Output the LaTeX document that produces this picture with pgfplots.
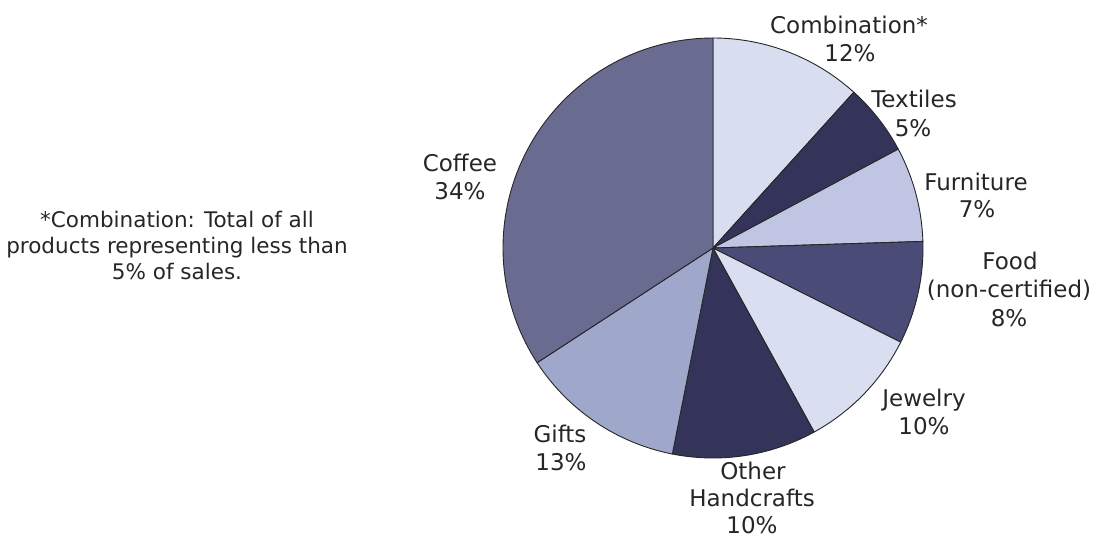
\documentclass[border=0pt]{standalone}
\usepackage{fontspec}
\setmainfont{DejaVu Sans}
\usepackage{pgfplots}
\pgfplotsset{compat=1.18}

% shares in percent, clockwise from 12 o'clock
% Combination 11.7, Textiles 5.5, Furniture 7.3, Food 7.9, Jewelry 9.6,
% Other Handcrafts 11.1, Gifts 12.7, Coffee 34.2
\definecolor{cComb}{HTML}{D9DDF0}
\definecolor{cText}{HTML}{34345A}
\definecolor{cFurn}{HTML}{BFC5E2}
\definecolor{cFood}{HTML}{4B4B77}
\definecolor{cJew}{HTML}{DADEF1}
\definecolor{cOther}{HTML}{34345A}
\definecolor{cGifts}{HTML}{9FA8CB}
\definecolor{cCoffee}{HTML}{6A6B91}

% #1 = cumulative share before, #2 = cumulative share after, #3 = colour
\newcommand{\wedgeplot}[3]{%
  \addplot[draw=black!85, line width=0.9pt, line join=round, fill=#3,
    domain={90-3.6*(#2)}:{90-3.6*(#1)}, samples=80]
    ({713+210*cos(x)},{291+210*sin(x)}) -- (axis cs:713,291) -- cycle;}

\newcommand{\lab}[3]{\node[anchor=base, text=black!85, font=\fontsize{23}{27}\selectfont, inner sep=0pt] at (axis cs:#1,#2) {#3};}
\newcommand{\foot}[3]{\node[anchor=base, text=black!85, font=\fontsize{21.5}{26}\selectfont, inner sep=0pt] at (axis cs:#1,#2) {#3};}

\begin{document}
\begin{tikzpicture}
\useasboundingbox (0,0) rectangle (1096pt,539pt);
\begin{axis}[at={(0,0)}, anchor=south west, scale only axis,
  width=1096pt, height=539pt, xmin=0, xmax=1096, ymin=0, ymax=539,
  hide axis, clip=false]
\wedgeplot{0}{11.7}{cComb}
\wedgeplot{11.7}{17.2}{cText}
\wedgeplot{17.2}{24.5}{cFurn}
\wedgeplot{24.5}{32.4}{cFood}
\wedgeplot{32.4}{42.0}{cJew}
\wedgeplot{42.0}{53.1}{cOther}
\wedgeplot{53.1}{65.8}{cGifts}
\wedgeplot{65.8}{100}{cCoffee}

\lab{849}{505}{Combination*}
\lab{850}{477}{12\%}
\lab{914}{431}{Textiles}
\lab{913}{402}{5\%}
\lab{976}{348}{Furniture}
\lab{977}{321}{7\%}
\lab{1010}{269}{Food}
\lab{1009}{241}{(non-certified)}
\lab{1009}{212}{8\%}
\lab{924}{132}{Jewelry}
\lab{924}{105}{10\%}
\lab{753}{60}{Other}
\lab{752}{33}{Handcrafts}
\lab{752}{6}{10\%}
\lab{560}{97}{Gifts}
\lab{561}{69}{13\%}
\lab{460}{367}{Coffee}
\lab{460}{339}{34\%}
\foot{177}{311}{*Combination: Total of all}
\foot{177}{285}{products representing less than}
\foot{177}{259}{5\% of sales.}
\end{axis}
\end{tikzpicture}
\end{document}
